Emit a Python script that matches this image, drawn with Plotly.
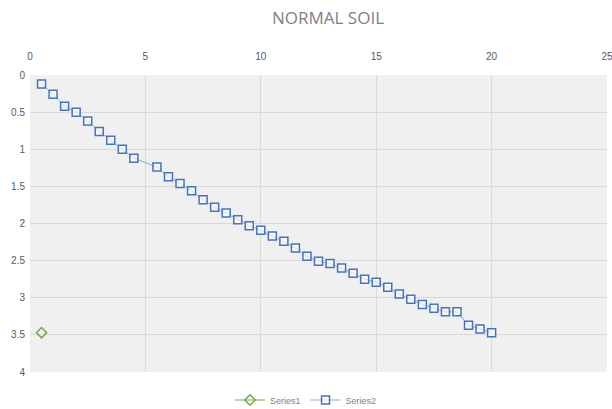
import plotly.graph_objects as go

s2_x = [0.5, 1.0, 1.5, 2.0, 2.5, 3.0, 3.5, 4.0, 4.5, 5.5, 6.0, 6.5, 7.0, 7.5, 8.0,
        8.5, 9.0, 9.5, 10.0, 10.5, 11.0, 11.5, 12.0, 12.5, 13.0, 13.5, 14.0, 14.5,
        15.0, 15.5, 16.0, 16.5, 17.0, 17.5, 18.0, 18.5, 19.0, 19.5, 20.0]
s2_y = [0.12, 0.26, 0.42, 0.50, 0.62, 0.76, 0.88, 1.00, 1.12, 1.24, 1.37, 1.46, 1.56,
        1.68, 1.78, 1.86, 1.95, 2.03, 2.09, 2.17, 2.24, 2.33, 2.44, 2.51, 2.54, 2.60,
        2.67, 2.75, 2.79, 2.86, 2.95, 3.02, 3.09, 3.14, 3.19, 3.19, 3.37, 3.42, 3.47]
s1_x = [0.5]
s1_y = [3.47]

fig = go.Figure()
fig.add_trace(go.Scatter(
    x=s1_x, y=s1_y, name="Series1", mode="lines+markers",
    line=dict(color="#70ad47", width=1),
    marker=dict(symbol="diamond-open", size=8, color="#70ad47", line=dict(width=1.5)),
))
fig.add_trace(go.Scatter(
    x=s2_x, y=s2_y, name="Series2", mode="lines+markers",
    line=dict(color="#8eaadb", width=1),
    marker=dict(symbol="square", size=8, color="rgba(255,255,255,0.6)",
                line=dict(color="#4472c4", width=1.5)),
))

fig.update_layout(
    width=612, height=409,
    margin=dict(l=30, r=5, t=75, b=37),
    paper_bgcolor="white",
    plot_bgcolor="#f0f0f0",
    title=dict(text="NORMAL SOIL", x=0.536, xanchor="center", y=0.955, yanchor="middle",
               font=dict(family="Liberation Sans Narrow, Open Sans, sans-serif", size=17, color="#7f7f7f")),
    xaxis=dict(side="top", range=[0, 25], dtick=5, tick0=0, showgrid=True,
               gridcolor="#d9d9d9", gridwidth=1.2, zeroline=False, showline=False,
               ticks="", ticklabeloverflow="allow", automargin=False,
               tickfont=dict(family="Liberation Sans Narrow, sans-serif", size=10, color="#595959"),
               ticklabelstandoff=12),
    yaxis=dict(range=[4, 0], dtick=0.5, tick0=0, showgrid=True,
               gridcolor="#d9d9d9", gridwidth=1.2, zeroline=False, showline=False,
               ticks="", automargin=False,
               tickfont=dict(family="Liberation Sans Narrow, sans-serif", size=10, color="#595959"),
               ticklabelstandoff=4),
    legend=dict(orientation="h", x=0.5, xanchor="center", xref="container",
                y=0.022, yanchor="middle", yref="container",
                font=dict(family="Liberation Sans Narrow, sans-serif", size=9, color="#7f7f7f"),
                bgcolor="rgba(0,0,0,0)"),
    showlegend=True,
)

fig.write_html("out.html")
